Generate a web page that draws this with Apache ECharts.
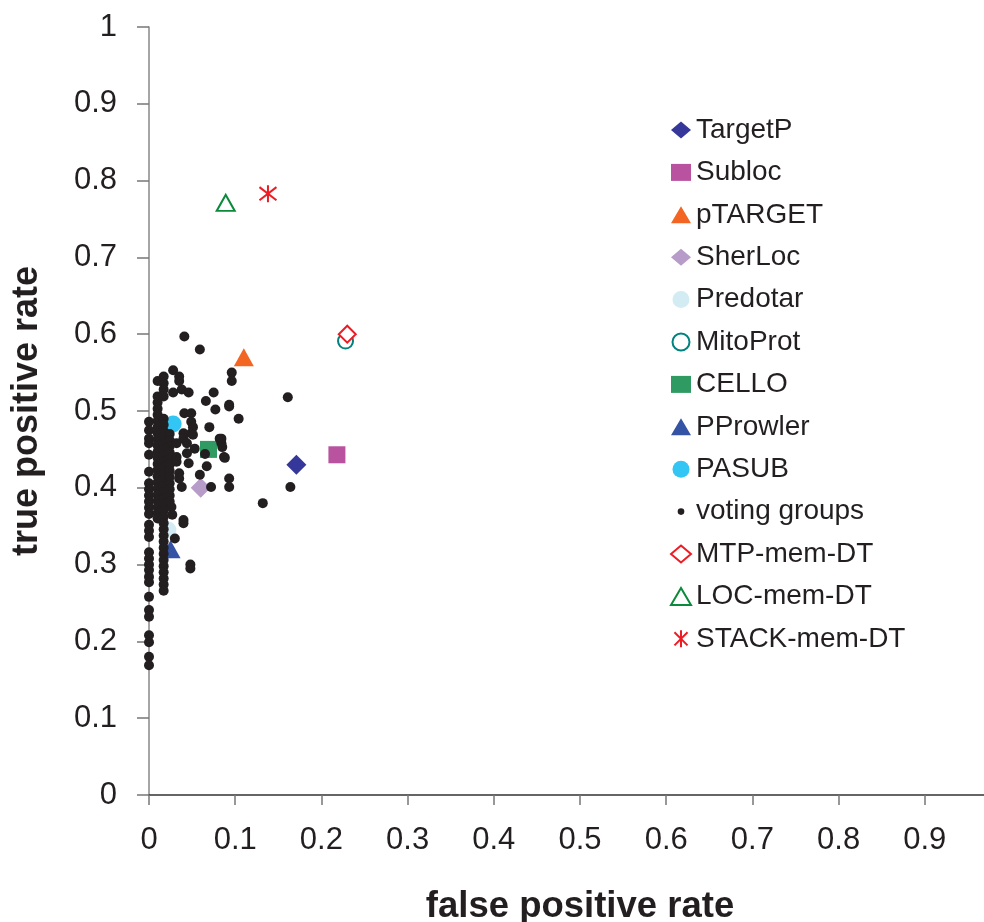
<!DOCTYPE html>
<html>
<head>
<meta charset="utf-8">
<title>TPR vs FPR</title>
<script src="https://cdn.jsdelivr.net/npm/echarts@6/dist/echarts.min.js"></script>
<style>
    html, body { margin: 0; padding: 0; background: #fff; }
    #chart { width: 984px; height: 922px; }
</style>
</head>
<body>
<div id="chart"></div>
<script>
// single predictors [fpr, tpr]
var targetP = [[0.171, 0.430]];
var subloc = [[0.218, 0.443]];
var pTarget = [[0.110, 0.570]];
var sherLoc = [[0.060, 0.400]];
var predotar = [[0.022, 0.345]];
var mitoProt = [[0.228, 0.591]];
var cello = [[0.069, 0.450]];
var pProwler = [[0.025, 0.320]];
var pasub = [[0.028, 0.483]];
var mtpMemDT = [[0.230, 0.600]];
var locMemDT = [[0.089, 0.771]];
var stackMemDT = [[0.138, 0.783]];

// voting groups, read column by column
var votingCol0 = [0.486, 0.475, 0.464, 0.458, 0.443, 0.421, 0.406, 0.398, 0.390, 0.382, 0.374, 0.366,
    0.352, 0.344, 0.336, 0.316, 0.308, 0.300, 0.293, 0.284, 0.277, 0.258, 0.241, 0.232, 0.208, 0.199, 0.180, 0.169];
var votingCol1 = [0.539, 0.519, 0.511, 0.503, 0.495, 0.487, 0.479, 0.471, 0.463, 0.455, 0.447, 0.439, 0.431,
    0.423, 0.415, 0.407, 0.399, 0.391, 0.383, 0.375, 0.367, 0.360];
var votingCol2 = [0.545, 0.536, 0.528, 0.519, 0.490, 0.482, 0.474, 0.466, 0.458, 0.450, 0.442, 0.434, 0.426,
    0.418, 0.410, 0.402, 0.394, 0.386, 0.378, 0.370, 0.362, 0.354, 0.346, 0.338, 0.330, 0.322, 0.314, 0.306,
    0.298, 0.290, 0.282, 0.274, 0.266];
var votingCol3 = [0.470, 0.462, 0.454, 0.446, 0.438, 0.430, 0.422, 0.414, 0.406, 0.398, 0.390, 0.382];
var votingOther = [
    [0.041, 0.597], [0.059, 0.580], [0.028, 0.553], [0.035, 0.545], [0.035, 0.539], [0.038, 0.528],
    [0.028, 0.524], [0.046, 0.524], [0.075, 0.524], [0.066, 0.513], [0.077, 0.502], [0.093, 0.508],
    [0.096, 0.550], [0.096, 0.539], [0.041, 0.497], [0.049, 0.497], [0.049, 0.486], [0.049, 0.471],
    [0.040, 0.471], [0.040, 0.464], [0.051, 0.479], [0.070, 0.479], [0.082, 0.464], [0.051, 0.469],
    [0.032, 0.458], [0.032, 0.440], [0.032, 0.434], [0.044, 0.458], [0.053, 0.451], [0.084, 0.458],
    [0.087, 0.440], [0.065, 0.444], [0.044, 0.445], [0.046, 0.432], [0.067, 0.428], [0.035, 0.419],
    [0.035, 0.412], [0.059, 0.417], [0.093, 0.412], [0.093, 0.401], [0.038, 0.401], [0.072, 0.401],
    [0.026, 0.375], [0.027, 0.365], [0.040, 0.358], [0.040, 0.354], [0.030, 0.334], [0.048, 0.300],
    [0.048, 0.295], [0.161, 0.518], [0.093, 0.506], [0.104, 0.490], [0.084, 0.464], [0.085, 0.453],
    [0.088, 0.439], [0.164, 0.401], [0.132, 0.380]
];

var votingGroups = [];
function addColumn(x, ys) {
    for (var i = 0; i < ys.length; i++) votingGroups.push([x, ys[i]]);
}
addColumn(0, votingCol0);
addColumn(0.010, votingCol1);
addColumn(0.017, votingCol2);
addColumn(0.024, votingCol3);
votingGroups = votingGroups.concat(votingOther);

var font = '"Liberation Sans", Arial, sans-serif';
var ink = '#231f20';
var asterisk = 'path://M0,0L10,10M10,0L0,10M5,-1.5L5,11.5';
var dotIcon = 'image://data:image/svg+xml;charset=utf-8,' + encodeURIComponent(
    '<svg xmlns="http://www.w3.org/2000/svg" width="20" height="18"><circle cx="10" cy="9" r="3.5" fill="#231f20"/></svg>');

function filled(name, data, symbol, size, color) {
    return { name: name, type: 'scatter', data: data, symbol: symbol, symbolSize: size,
        itemStyle: { color: color, opacity: 1 } };
}
function hollow(name, data, symbol, size, color) {
    return { name: name, type: 'scatter', data: data, symbol: symbol, symbolSize: size,
        itemStyle: { color: '#fff', borderColor: color, borderWidth: 2, opacity: 1 } };
}

var chart = echarts.init(document.getElementById('chart'));

// the x axis runs to 1 but is cut by the right edge at about 0.97
var option = {
    animation: false,
    backgroundColor: '#fff',
    grid: { left: 149, right: -27, top: 27, bottom: 127, outerBoundsMode: 'none', containLabel: false },
    legend: {
        orient: 'vertical',
        left: 665,
        top: 111,
        itemWidth: 20,
        itemHeight: 17,
        itemGap: 14.4,
        selectedMode: false,
        textStyle: { fontFamily: font, fontSize: 28, lineHeight: 28, color: ink },
        data: ['TargetP', 'Subloc', 'pTARGET', 'SherLoc', 'Predotar', 'MitoProt', 'CELLO', 'PProwler', 'PASUB',
            { name: 'voting groups', icon: dotIcon }, 'MTP-mem-DT', 'LOC-mem-DT', 'STACK-mem-DT']
    },
    xAxis: {
        type: 'value',
        min: 0,
        max: 1,
        interval: 0.1,
        name: 'false positive rate',
        nameLocation: 'middle',
        nameGap: 93,
        nameTextStyle: { fontFamily: font, fontSize: 36.5, fontWeight: 'bold', color: ink },
        axisLine: { lineStyle: { color: '#333', width: 1.5 } },
        axisTick: { length: 10, lineStyle: { color: '#777', width: 1.5 } },
        axisLabel: { fontFamily: font, fontSize: 31, color: ink, margin: 30 },
        splitLine: { show: false }
    },
    yAxis: {
        type: 'value',
        min: 0,
        max: 1,
        interval: 0.1,
        name: 'true positive rate',
        nameLocation: 'middle',
        nameGap: 104,
        nameTextStyle: { fontFamily: font, fontSize: 36, fontWeight: 'bold', color: ink },
        axisLine: { show: true, lineStyle: { color: '#888', width: 1.5 } },
        axisTick: { show: true, length: 12, lineStyle: { color: '#777', width: 1.5 } },
        axisLabel: { fontFamily: font, fontSize: 31, color: ink, margin: 32 },
        splitLine: { show: false }
    },
    series: [
        filled('TargetP', targetP, 'diamond', [20, 20], '#35379a'),
        filled('Subloc', subloc, 'rect', [17, 17], '#b9529f'),
        filled('pTARGET', pTarget, 'triangle', [20, 18], '#f26522'),
        filled('SherLoc', sherLoc, 'diamond', [20, 20], '#b79bc8'),
        filled('Predotar', predotar, 'circle', 17, '#d3ecf3'),
        hollow('MitoProt', mitoProt, 'circle', 15, '#00827f'),
        filled('CELLO', cello, 'rect', [17, 17], '#2f9a62'),
        filled('PProwler', pProwler, 'triangle', [20, 18], '#3553a4'),
        filled('PASUB', pasub, 'circle', 17, '#33c5f3'),
        filled('voting groups', votingGroups, 'circle', 10, ink),
        hollow('MTP-mem-DT', mtpMemDT, 'diamond', [17, 17], '#ed1c24'),
        hollow('LOC-mem-DT', locMemDT, 'triangle', [18, 16], '#0a8a3a'),
        {
            name: 'STACK-mem-DT', type: 'scatter', data: stackMemDT, symbol: asterisk, symbolSize: 17,
            itemStyle: { color: 'none', borderColor: '#ed1c24', borderWidth: 2, opacity: 1 }
        }
    ]
};
chart.setOption(option);

window.onresize = function () {
    chart.resize();
};
</script>
</body>
</html>
